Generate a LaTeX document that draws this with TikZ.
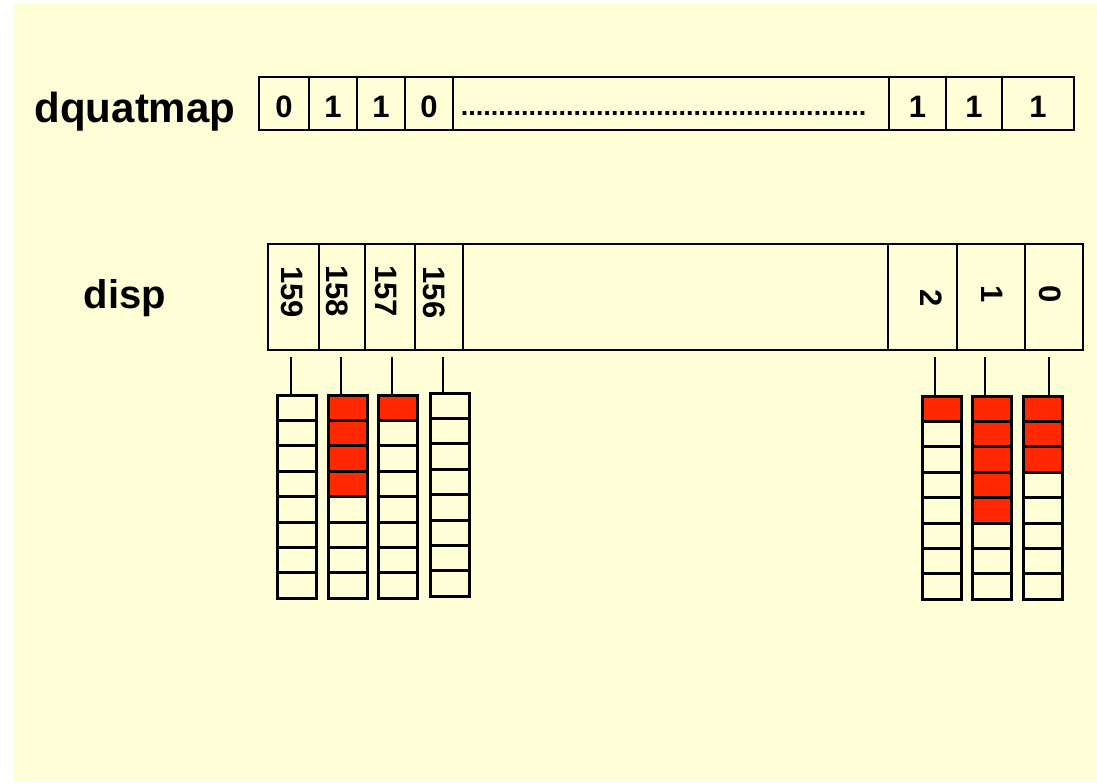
\documentclass[tikz,border=0pt]{standalone}
\usepackage{fontspec}
\setmainfont{Liberation Sans}
\definecolor{bgc}{RGB}{255,255,215}
\definecolor{redc}{RGB}{255,40,0}
\begin{document}
\begin{tikzpicture}[x=0.5pt,y=-0.5pt,
  box/.style={draw=black, line width=1pt, rectangle, inner sep=0pt, outer sep=0pt},
  dig/.style={font=\fontsize{15.5}{18}\selectfont\bfseries, inner sep=0pt},
  cell/.style={draw=black, line width=1.5pt, rectangle, inner sep=0pt, outer sep=0pt, minimum width=19.5pt, minimum height=12.7pt},
  conn/.style={draw=black, line width=1.1pt},
  title/.style={font=\fontsize{21}{25}\selectfont\bfseries, inner sep=0pt, anchor=base}]
\useasboundingbox (0,0) rectangle (1097,782);
\fill[bgc] (13,4) rectangle (1097,782);
% dquatmap row
\node[title] (lq) at (135,122) {dquatmap};
\foreach \n/\a/\b/\t in {q1/259/309/0, q2/309/357/1, q3/357/405/1, q4/405/453/0, q5/453/889/{}, q6/889/946/1, q7/946/1002/1, q8/1002/1074/1} {
  \pgfmathsetmacro\cw{(\b-\a)*0.5}
  \pgfmathsetmacro\cx{(\a+\b)/2}
  \node[box, dig, minimum width=\cw pt, minimum height=26.5pt, text height=13.5pt, text depth=0pt] (\n) at (\cx,103.5) {\t};
}
\node[font=\fontsize{13.5}{16}\selectfont\bfseries, inner sep=0pt, anchor=base] (dots) at (663.5,115) {......................................................};
% disp row
\node[font=\fontsize{20}{24}\selectfont\bfseries, inner sep=0pt, anchor=base] (ld) at (125,308) {disp};
\foreach \n/\a/\b in {d159/268/319, d158/319/365, d157/365/415, d156/415/463, dmid/463/888, d2/888/957, d1/957/1025, d0/1025/1083} {
  \pgfmathsetmacro\cw{(\b-\a)*0.5}
  \pgfmathsetmacro\cx{(\a+\b)/2}
  \node[box, line width=1.2pt, minimum width=\cw pt, minimum height=53pt] (\n) at (\cx,297) {};
}
\foreach \n/\px/\py/\t in {l159/292/292/159, l158/337.5/291/158, l157/386/291/157, l156/434/292.5/156, l2/931.5/298/2, l1/992/294/1, l0/1050/294/0} {
  \node[dig, rotate=-90] (\n) at (\px,\py) {\t};
}
% stacks
\foreach \n/\sx/\st/\r in {s159/297/395/0, s158/348/395/4, s157/398/395/1, s156/449.5/393/0, s2/941.5/396/1, s1/991.5/396/5, s0/1042.5/396/3} {
  \foreach \i in {0,...,7} {
    \pgfmathsetmacro\cy{\st+12.7+\i*25.4}
    \ifnum\i<\r\relax \def\cf{redc}\else \def\cf{bgc}\fi
    \node[cell, fill=\cf] (\n-\i) at (\sx,\cy) {};
  }
}
% connectors
\foreach \n/\lx in {s159/291, s158/341, s157/392, s156/443, s2/935, s1/985, s0/1049} {
  \coordinate (t\n) at (\lx,357);
  \draw[conn] (t\n) -- (t\n |- \n-0.north);
}
\end{tikzpicture}
\end{document}
